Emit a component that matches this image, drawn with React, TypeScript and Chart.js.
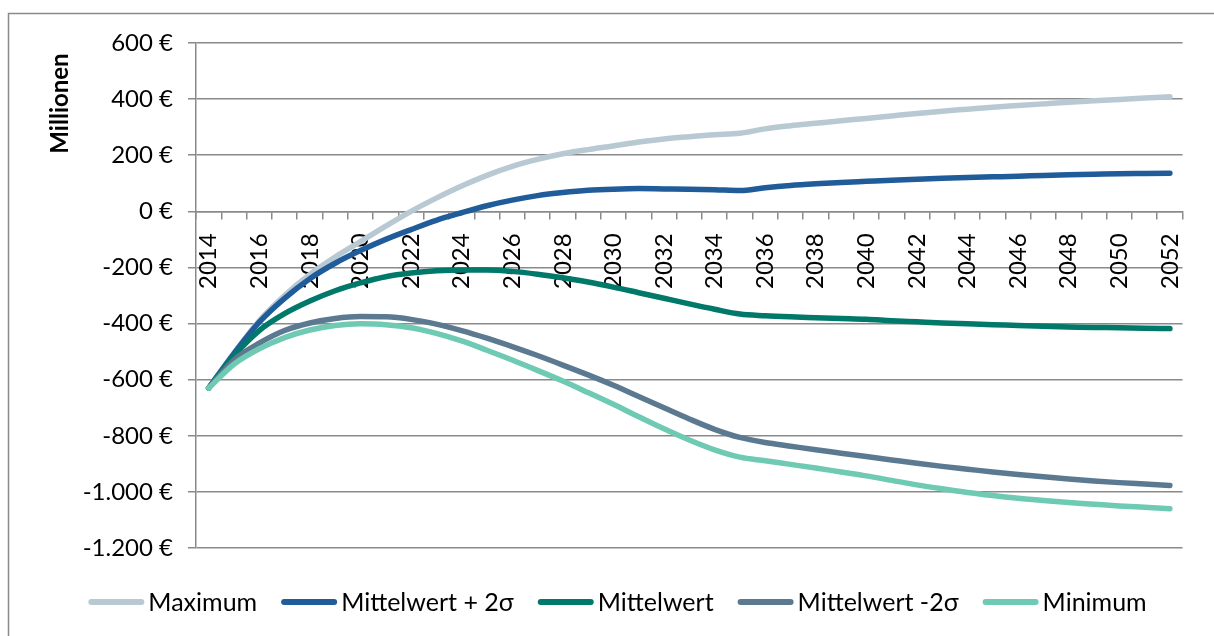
import React, { useEffect, useRef } from "react";
import { Chart, registerables } from "chart.js";

Chart.register(...registerables);

const years = [
  "2014", "2015", "2016", "2017", "2018", "2019", "2020", "2021", "2022", "2023",
  "2024", "2025", "2026", "2027", "2028", "2029", "2030", "2031", "2032", "2033",
  "2034", "2035", "2036", "2037", "2038", "2039", "2040", "2041", "2042", "2043",
  "2044", "2045", "2046", "2047", "2048", "2049", "2050", "2051", "2052",
];

const maximum = [
  -630, -505, -390, -300, -225, -163, -108, -53, 0, 47,
  90, 128, 160, 185, 205, 220, 233, 247, 258, 266,
  273, 278, 294, 305, 314, 323, 331, 340, 349, 357,
  364, 371, 377, 383, 389, 394, 399, 404, 408,
];

const mittelPlus = [
  -630, -507, -395, -310, -240, -185, -140, -100, -65, -32,
  -5, 20, 40, 56, 67, 75, 79, 81, 80, 79,
  77, 74, 84, 92, 98, 103, 107, 111, 114, 118,
  121, 123, 125, 128, 130, 132, 134, 135, 136,
];

const mittelwert = [
  -630, -515, -425, -365, -320, -283, -255, -233, -220, -212,
  -209, -209, -214, -224, -237, -252, -270, -290, -310, -330,
  -349, -366, -372, -376, -379, -382, -385, -390, -394, -398,
  -401, -404, -407, -410, -412, -414, -415, -417, -418,
];

const mittelMinus = [
  -630, -530, -470, -425, -398, -382, -375, -376, -385, -402,
  -425, -452, -482, -514, -548, -583, -620, -660, -700, -740,
  -777, -806, -824, -837, -850, -862, -874, -886, -898, -909,
  -919, -929, -938, -946, -954, -961, -967, -972, -977,
];

const minimum = [
  -630, -545, -490, -450, -423, -407, -401, -404, -415, -435,
  -462, -495, -530, -567, -605, -646, -688, -732, -775, -815,
  -850, -876, -889, -902, -915, -929, -943, -959, -975, -989,
  -1002, -1013, -1023, -1031, -1038, -1044, -1050, -1055, -1060,
];

const seriesNames = ["Maximum", "Mittelwert + 2σ", "Mittelwert", "Mittelwert -2σ", "Minimum"];
const seriesColors = ["#B9C9D3", "#1F5C99", "#00786A", "#5B7A91", "#6FCAB4"];

const FONT = "Lato, 'Open Sans', sans-serif";
const GRID = "#8A8A8A";

function fmtEuro(v: number): string {
  const s = Math.abs(v).toString().replace(/\B(?=(\d{3})+(?!\d))/g, ".");
  return (v < 0 ? "-" : "") + s + " €";
}

const decorPlugin = {
  id: "decor",
  beforeDraw(chart: any) {
    const ctx = chart.ctx;
    ctx.save();
    ctx.strokeStyle = GRID;
    ctx.lineWidth = 1.5;
    ctx.strokeRect(8.5, 13.5, 1400, 800);
    ctx.restore();
  },
  afterDraw(chart: any) {
    const ctx = chart.ctx;
    ctx.save();
    ctx.font = `bold 24px ${FONT}`;
    ctx.fillStyle = "#000";
    ctx.translate(68, 103.5);
    ctx.rotate(-Math.PI / 2);
    ctx.textAlign = "center";
    ctx.textBaseline = "alphabetic";
    ctx.fillText("Millionen", 0, 0);
    ctx.restore();

    ctx.save();
    ctx.font = `25px ${FONT}`;
    const lineW = 56;
    const gapText = 4;
    const gapItem = 24;
    const widths = seriesNames.map((n) => ctx.measureText(n).width);
    let total = 0;
    widths.forEach((w, i) => {
      total += lineW + gapText + w + (i < widths.length - 1 ? gapItem : 0);
    });
    let x = 617.5 - total / 2;
    const y = 602;
    seriesNames.forEach((n, i) => {
      ctx.strokeStyle = seriesColors[i];
      ctx.lineWidth = 6;
      ctx.lineCap = "round";
      ctx.beginPath();
      ctx.moveTo(x + 3, y);
      ctx.lineTo(x + lineW - 3, y);
      ctx.stroke();
      ctx.fillStyle = "#000";
      ctx.textAlign = "left";
      ctx.textBaseline = "middle";
      ctx.fillText(n, x + lineW + gapText, y + 1);
      x += lineW + gapText + widths[i] + gapItem;
    });
    ctx.restore();
  },
};

export default function App() {
  const ref = useRef<HTMLCanvasElement | null>(null);

  useEffect(() => {
    if (!ref.current) return;
    const all = [maximum, mittelPlus, mittelwert, mittelMinus, minimum];
    const chart = new Chart(ref.current, {
      type: "line",
      data: {
        labels: years,
        datasets: all.map((d, i) => ({
          label: seriesNames[i],
          data: d,
          borderColor: seriesColors[i],
          backgroundColor: seriesColors[i],
          borderWidth: 5.5,
          pointRadius: 0,
          pointHoverRadius: 0,
          cubicInterpolationMode: "monotone" as const,
          borderCapStyle: "round" as const,
          borderJoinStyle: "round" as const,
          fill: false,
          order: 5 - i,
        })),
      },
      options: {
        responsive: false,
        animation: false,
        layout: { padding: { left: 0, top: 43, right: 24, bottom: 88 } },
        plugins: {
          legend: { display: false },
          tooltip: { enabled: false },
          title: { display: false },
        },
        scales: {
          x: {
            type: "category",
            position: { y: 0 } as any,
            offset: true,
            grid: {
              display: true,
              drawOnChartArea: false,
              drawTicks: true,
              tickLength: 7,
              offset: true,
              color: GRID,
              lineWidth: 1.5,
            },
            border: { display: true, color: GRID, width: 1.5 },
            ticks: {
              autoSkip: false,
              maxRotation: 90,
              minRotation: 90,
              padding: 15,
              color: "#000",
              font: { family: FONT, size: 24 },
              callback: (_v: any, i: number) => (i % 2 === 0 ? years[i] : ""),
            },
          },
          y: {
            type: "linear",
            min: -1200,
            max: 600,
            afterFit: (scale: any) => {
              scale.width = 196;
            },
            grid: {
              color: GRID,
              lineWidth: 1.5,
              drawTicks: true,
              tickLength: 8,
            },
            border: { display: true, color: GRID, width: 1.5 },
            ticks: {
              stepSize: 200,
              padding: 15,
              color: "#000",
              font: { family: FONT, size: 24 },
              callback: (v: any) => fmtEuro(Number(v)),
            },
          },
        },
      },
      plugins: [decorPlugin],
    });
    return () => chart.destroy();
  }, []);

  return (
    <div style={{ position: "absolute", left: 0, top: 0, width: 1214, height: 636, background: "#fff" }}>
      <canvas ref={ref} width={1214} height={636} style={{ display: "block" }} />
    </div>
  );
}
